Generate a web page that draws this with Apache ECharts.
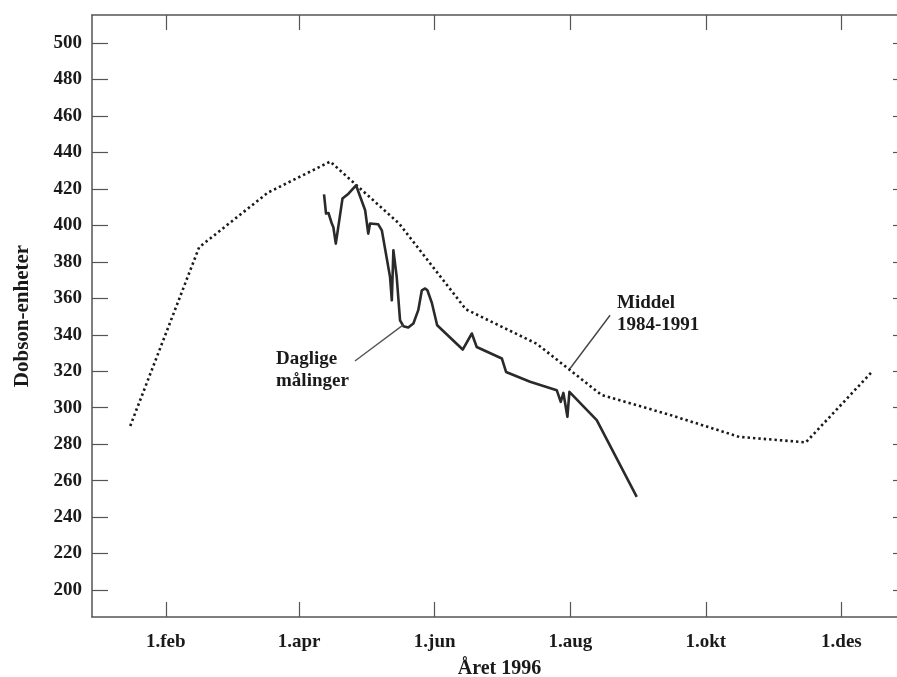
<!DOCTYPE html>
<html>
<head>
<meta charset="utf-8">
<script src="https://cdn.jsdelivr.net/npm/echarts@6/dist/echarts.min.js"></script>
<style>
html,body{margin:0;padding:0;background:#fff;}
#chart{width:897px;height:677px;}
</style>
</head>
<body>
<div id="chart"></div>
<script>
// Day of year (0 = 1 Jan 1996) for x positions
const tickDays = [31, 91, 152, 213, 274, 335];
const tickLabels = ['1.feb', '1.apr', '1.jun', '1.aug', '1.okt', '1.des'];
const yTicks = [200, 220, 240, 260, 280, 300, 320, 340, 360, 380, 400, 420, 440, 460, 480, 500];

// Middel 1984-1991 (monthly means)
const meanDays = [15, 46, 77, 105, 136, 166, 198, 227, 258, 289, 319, 349];
const meanValues = [290, 388, 418, 435, 401, 354, 335, 307, 296, 284, 281, 320];

// Daglige målinger 1996
const dailyDays = [102.2, 103.1, 104.2, 105.7, 106.4, 107.5, 110.5, 113.2, 116.6, 120.7, 122.1, 122.9,
  126.6, 128.2, 131.9, 132.7, 133.4, 134.9, 136.4, 137.9, 140.1, 142.4, 144.6, 146.2, 147.7, 148.7,
  150.7, 153.1, 164.6, 168.7, 170.9, 182.2, 184.1, 194.9, 206.9, 208.7, 209.9, 211.7, 212.6, 224.9, 242.9];
const dailyValues = [417, 406.5, 406.8, 401, 399, 390, 414.7, 417.4, 422, 408.3, 395.5, 401,
  400.6, 397.3, 371.7, 358.9, 386.4, 371.7, 347.9, 344.7, 344, 346.2, 353.5, 364.4, 365.4, 364.4,
  357.6, 345.2, 331.9, 340.7, 333.3, 327, 319.6, 314.2, 309.6, 303.2, 308.1, 295, 308.7, 293.2, 251.1];

// Annotation pointers and texts
const dailyPointer = [[116.1, 325.6], [137.7, 345.3]];
const meanPointer = [[230.9, 350.7], [212.9, 321.5]];
const dailyText = { day: 80.6, value: 320.6, text: 'Daglige\nmålinger' };
const meanText = { day: 234.0, value: 351.3, text: 'Middel\n1984-1991' };

const FONT = 'Liberation Serif';
const INK = '#1a1a1a';
const FRAME = '#555';
const X_MIN = -2.2, X_MAX = 364.5;

const zip = (a, b) => a.map((v, i) => [v, b[i]]);

const chart = echarts.init(document.getElementById('chart'));
chart.setOption({
  backgroundColor: '#fff',
  animation: false,
  grid: { left: 92, width: 815, top: 15, bottom: 60, containLabel: false, outerBoundsMode: 'none' },
  xAxis: [
    {
      type: 'value', min: X_MIN, max: X_MAX, position: 'bottom',
      name: 'Året 1996', nameLocation: 'middle', nameGap: 42,
      nameTextStyle: { fontFamily: FONT, fontSize: 20, color: INK, fontWeight: 'bold' },
      axisLine: { show: true, onZero: false, lineStyle: { color: FRAME, width: 1.5 } },
      axisTick: { show: true, inside: true, length: 15, customValues: tickDays, lineStyle: { color: FRAME, width: 1.2 } },
      axisLabel: {
        customValues: tickDays, margin: 16,
        fontFamily: FONT, fontSize: 19, color: INK, fontWeight: 'bold',
        formatter: v => tickLabels[tickDays.indexOf(v)] || ''
      },
      splitLine: { show: false }
    },
    {
      type: 'value', min: X_MIN, max: X_MAX, position: 'top',
      axisLine: { show: true, onZero: false, lineStyle: { color: FRAME, width: 1.5 } },
      axisTick: { show: true, inside: true, length: 15, customValues: tickDays, lineStyle: { color: FRAME, width: 1.2 } },
      axisLabel: { show: false },
      splitLine: { show: false }
    }
  ],
  yAxis: [
    {
      type: 'value', min: 185.2, max: 515.4, position: 'left',
      name: 'Dobson-enheter', nameLocation: 'middle', nameGap: 59, nameRotate: 90,
      nameTextStyle: { fontFamily: FONT, fontSize: 21, color: INK, fontWeight: 'bold' },
      axisLine: { show: true, onZero: false, lineStyle: { color: FRAME, width: 1.5 } },
      axisTick: { show: true, inside: true, length: 16, customValues: yTicks, lineStyle: { color: FRAME, width: 1.2 } },
      axisLabel: { customValues: yTicks, margin: 10, fontFamily: FONT, fontSize: 19, color: INK, fontWeight: 'bold' },
      splitLine: { show: false }
    },
    {
      type: 'value', min: 185.2, max: 515.4, position: 'right',
      axisLine: { show: true, onZero: false, lineStyle: { color: FRAME, width: 1.5 } },
      axisTick: { show: true, inside: true, length: 14, customValues: yTicks, lineStyle: { color: FRAME, width: 1.2 } },
      axisLabel: { show: false },
      splitLine: { show: false }
    }
  ],
  series: [
    {
      name: 'Middel 1984-1991', type: 'line', xAxisIndex: 0, yAxisIndex: 0,
      data: zip(meanDays, meanValues), symbol: 'none', silent: true,
      lineStyle: { color: '#1a1a1a', width: 2.6, type: [2.4, 3.0], cap: 'butt' }
    },
    {
      name: 'Daglige målinger', type: 'line', xAxisIndex: 0, yAxisIndex: 0,
      data: zip(dailyDays, dailyValues), symbol: 'none', silent: true,
      lineStyle: { color: '#2a2a2a', width: 2.6, join: 'round' }
    },
    {
      type: 'line', data: dailyPointer, symbol: 'none', silent: true,
      lineStyle: { color: '#555', width: 1.4 }
    },
    {
      type: 'line', data: meanPointer, symbol: 'none', silent: true,
      lineStyle: { color: '#444', width: 1.4 }
    },
    {
      type: 'scatter', symbolSize: 0, silent: true,
      itemStyle: { opacity: 1 },
      data: [[dailyText.day, dailyText.value, dailyText.text], [meanText.day, meanText.value, meanText.text]],
      label: {
        show: true, position: 'right', distance: 0, align: 'left', verticalAlign: 'middle',
        formatter: p => p.data[2], opacity: 1,
        fontFamily: FONT, fontSize: 19, fontWeight: 'bold', color: INK, lineHeight: 22
      }
    }
  ]
});
</script>
</body>
</html>
